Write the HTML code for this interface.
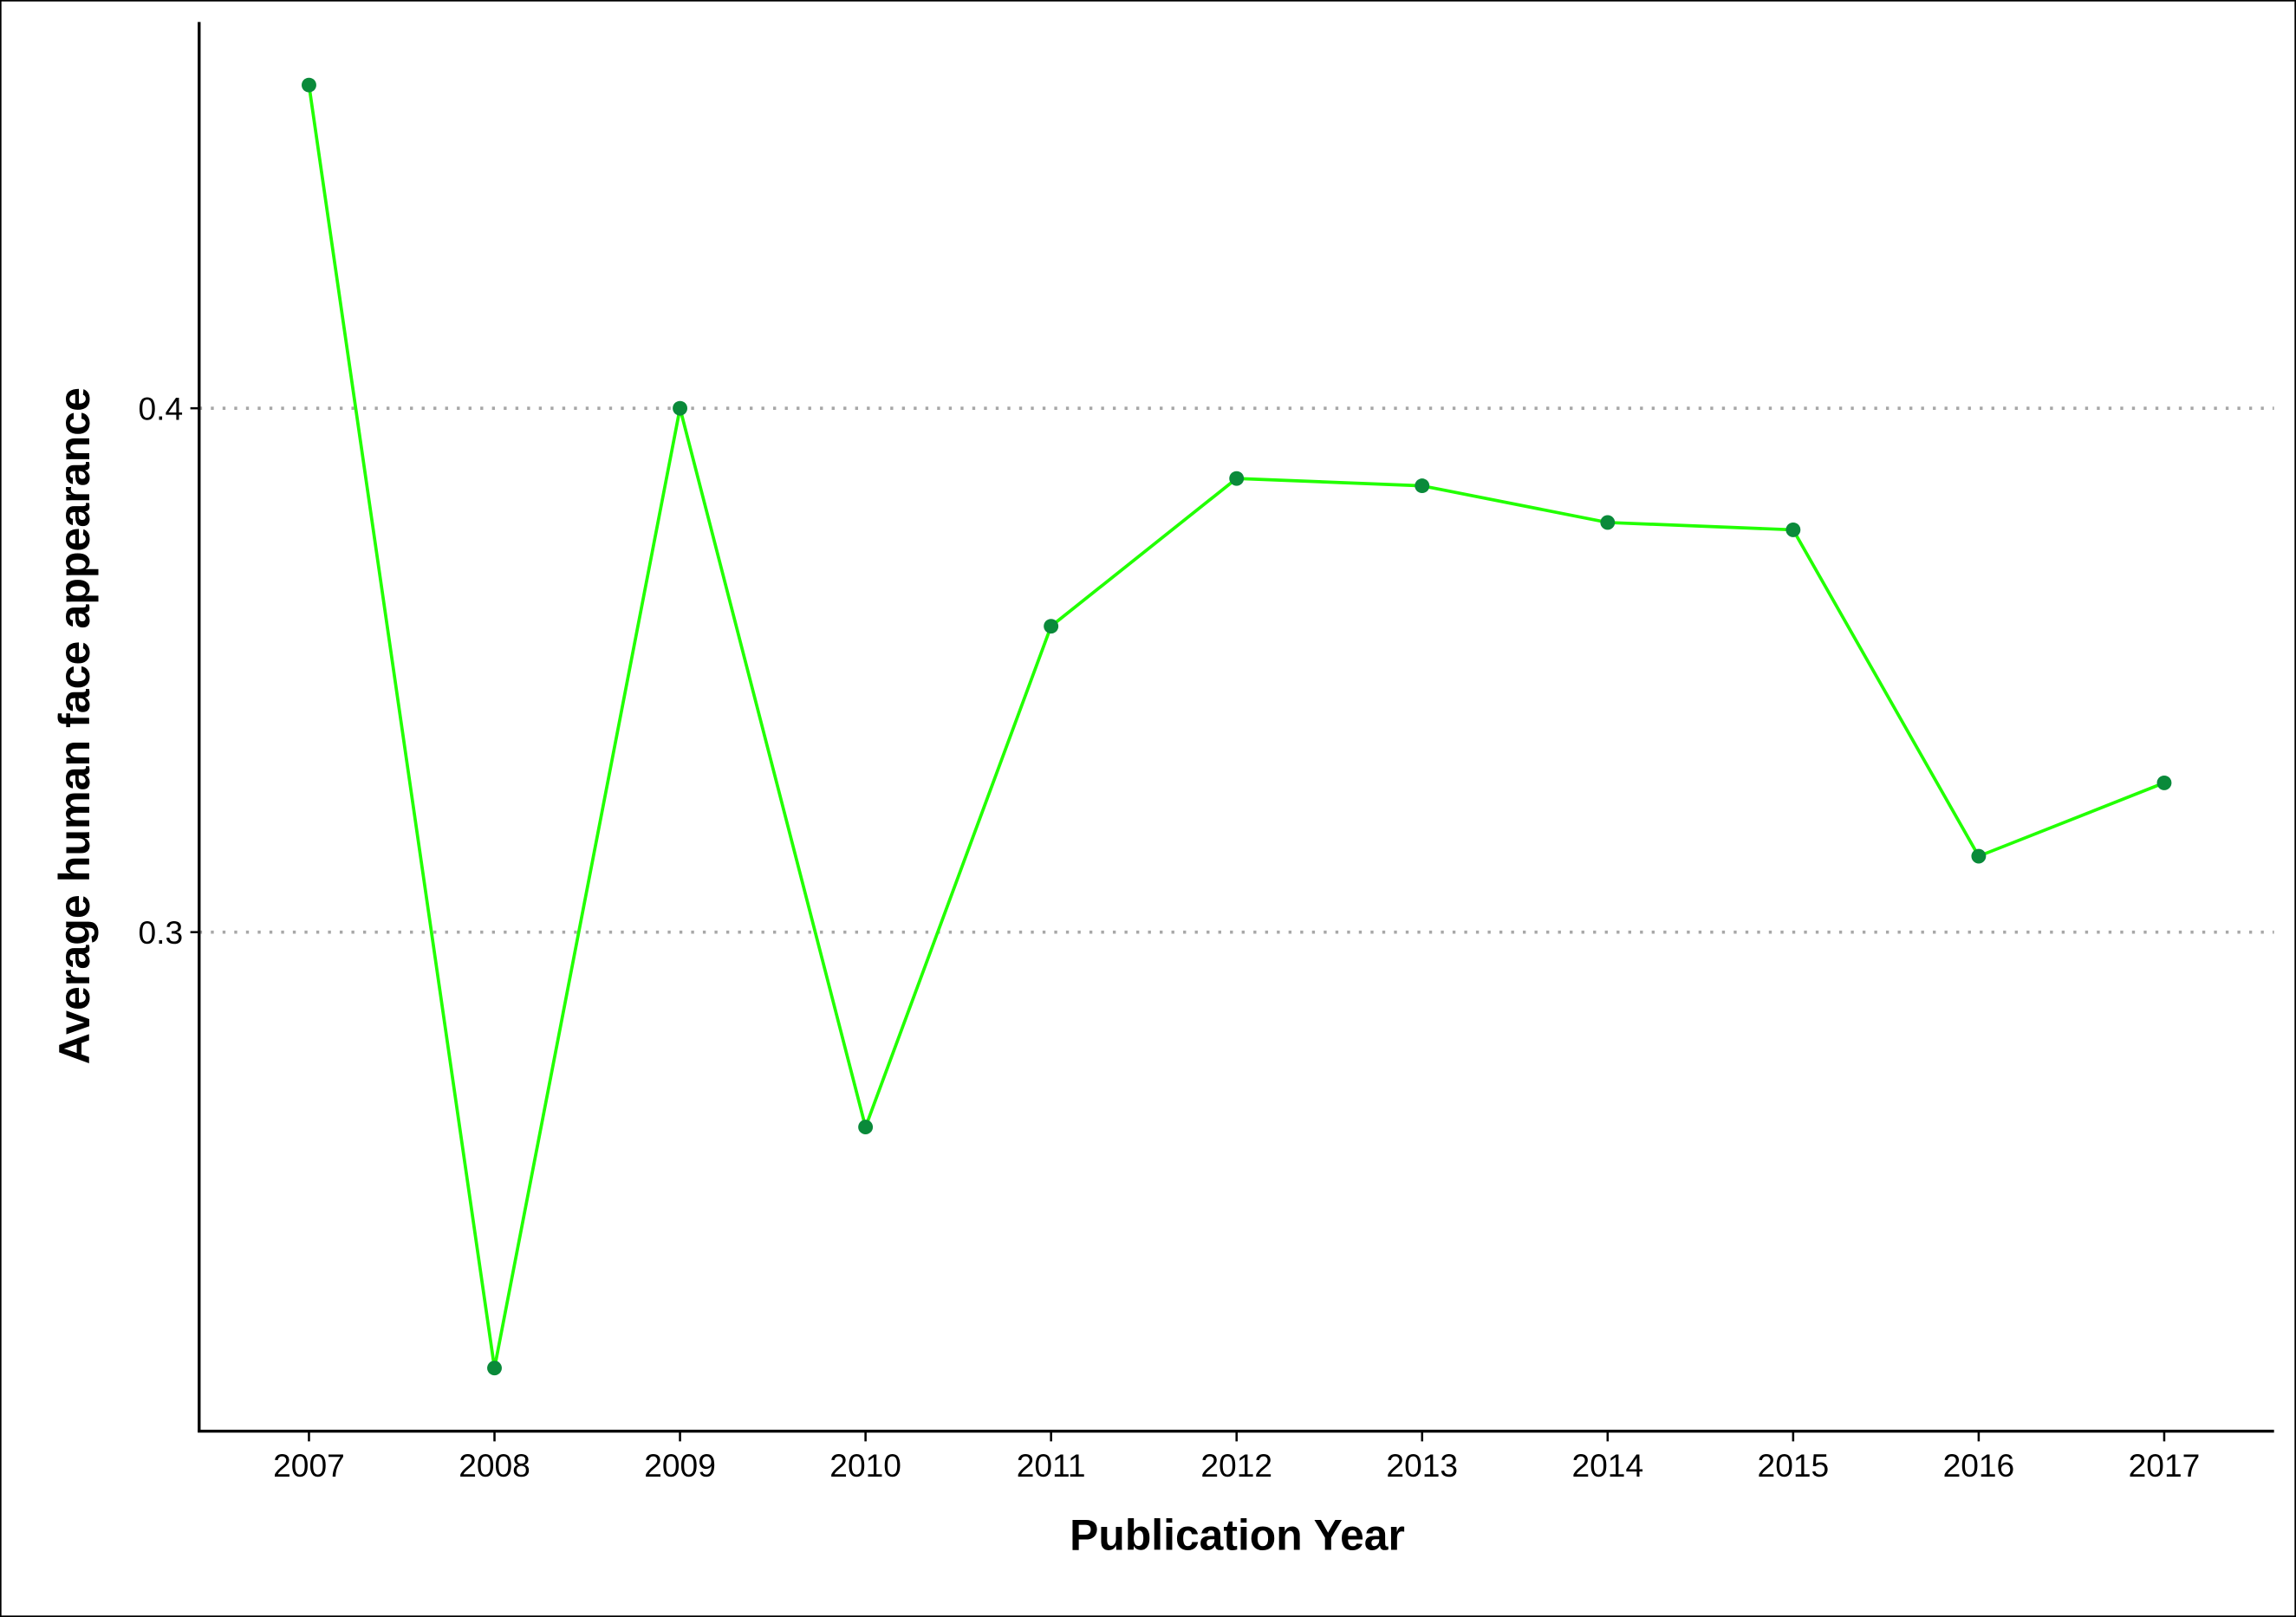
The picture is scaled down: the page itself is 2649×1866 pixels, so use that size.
<!DOCTYPE html>
<html><head><meta charset="utf-8">
<style>
html,body{margin:0;padding:0;background:#fff;}
svg{display:block;}
text{font-family:"Liberation Sans",sans-serif;}
</style></head>
<body>
<svg id="chart" width="2649" height="1866" viewBox="0 0 1568 1105" preserveAspectRatio="none" xmlns="http://www.w3.org/2000/svg">
<rect x="0.5" y="0.5" width="1567" height="1104" fill="#fff" stroke="#000" stroke-width="1"/>
<g id="grid"></g>
<g id="series"></g>
<line x1="136" y1="15" x2="136" y2="978" stroke="#000" stroke-width="2"/>
<line x1="135" y1="978" x2="1553" y2="978" stroke="#000" stroke-width="2"/>
<g id="axes"></g>
<text x="845" y="1059" font-size="29.5" font-weight="bold" text-anchor="middle">Publication Year</text>
<text transform="translate(61,496) rotate(-90)" font-size="29.7" font-weight="bold" text-anchor="middle">Average human face appearance</text>
</svg>
<script>
const years = [2007,2008,2009,2010,2011,2012,2013,2014,2015,2016,2017];
const values = [0.4617,0.2168,0.4000,0.2628,0.3584,0.3866,0.3852,0.3782,0.3768,0.3145,0.3285];
const yTicks = [0.3,0.4];
const yTickLabels = ["0.3","0.4"];

const NS="http://www.w3.org/2000/svg";
function xScale(yr){return 211+(yr-2007)*(1478-211)/10;}
function yScale(v){return 637-(v-0.3)*3580;}
function mk(tag,attrs,parent){const e=document.createElementNS(NS,tag);for(const k in attrs)e.setAttribute(k,attrs[k]);parent.appendChild(e);return e;}
const grid=document.getElementById('grid'),axes=document.getElementById('axes'),series=document.getElementById('series');
yTicks.forEach((t,i)=>{
  const y=yScale(t);
  const g=mk('line',{x1:136,x2:1553,y1:y,y2:y,stroke:'#a8a8a8','stroke-width':2.2,'stroke-dasharray':'2,6'},grid);
  
  
  const tk=mk('line',{x1:130,x2:136,y1:y,y2:y,stroke:'#000','stroke-width':1.5},axes);
  
  
  const tl=mk('text',{x:125,y:y+8,'font-size':22,'text-anchor':'end'},axes);
  tl.textContent=yTickLabels[i];
  
  
});
years.forEach(yr=>{
  const x=xScale(yr);
  const tk=mk('line',{x1:x,x2:x,y1:978,y2:985,stroke:'#000','stroke-width':1.5},axes);
  
  
  const tl=mk('text',{x:x,y:1009,'font-size':22,'text-anchor':'middle'},axes);
  tl.textContent=String(yr);
  
  
});
const pts=years.map((yr,i)=>xScale(yr)+','+yScale(values[i])).join(' ');
const line=mk('polyline',{points:pts,fill:'none',stroke:'#22ff00','stroke-width':2.2},series);


years.forEach((yr,i)=>{
  const c=mk('circle',{cx:xScale(yr),cy:yScale(values[i]),r:5,fill:'#0a8a3a'},series);
  
  
});
</script>
</body></html>
